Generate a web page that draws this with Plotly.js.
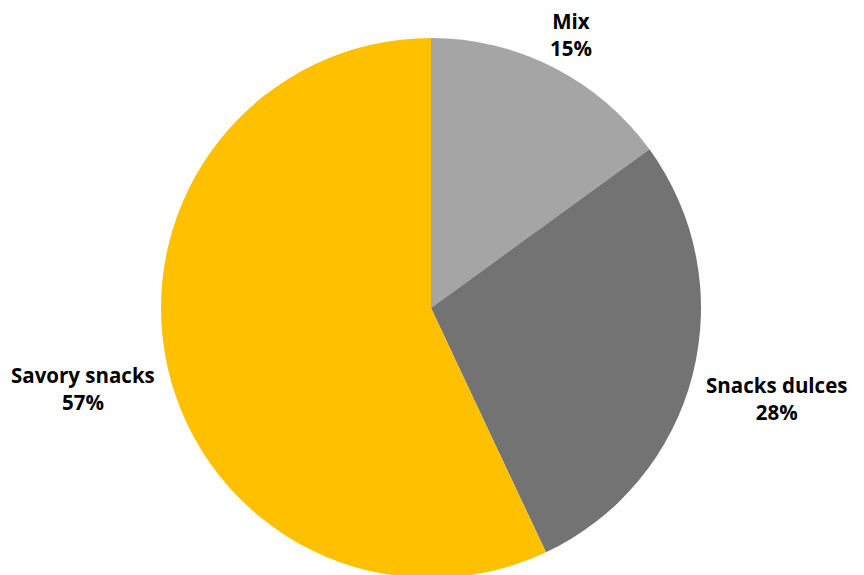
<!DOCTYPE html>
<html>
<head>
<meta charset="utf-8">
<script src="https://cdn.plot.ly/plotly-3.0.1.min.js"></script>
<style>html,body{margin:0;padding:0;overflow:hidden;background:#fff;}#chart{width:864px;height:578px;}</style>
</head>
<body>
<div id="chart"></div>
<script>
const categories = ["Mix", "Snacks dulces", "Savory snacks"];
const shares = [15, 28, 57];
const colors = ["#A5A5A5", "#737373", "#FFC000"];

// label block centre (pixels in page): [x, y]
const labelPos = [
  [571, 34],
  [776, 398.5],
  [83, 388]
];
const W = 864, H = 578;
const annotations = categories.map((c, i) => ({
  xref: "paper", yref: "paper",
  x: labelPos[i][0] / W, y: 1 - labelPos[i][1] / H,
  xanchor: "center", yanchor: "middle", align: "center",
  showarrow: false,
  text: "<b>" + c + "</b><br><b>" + shares[i] + "%</b>",
  font: {family: "Open Sans", size: 20.5, color: "#000", weight: 700}
}));

const trace = {
  type: "pie",
  labels: categories,
  values: shares,
  marker: {colors: colors, line: {width: 0}},
  sort: false,
  direction: "clockwise",
  rotation: 0,
  textinfo: "none",
  hoverinfo: "label+percent",
  domain: {x: [0, 862 / 864], y: [0, (578 - 38) / 578]}
};
Plotly.newPlot("chart", [trace], {
  width: W, height: H,
  margin: {l: 0, r: 0, t: 0, b: 0},
  showlegend: false,
  paper_bgcolor: "#fff",
  annotations: annotations
}, {displayModeBar: false, staticPlot: true});
</script>
</body>
</html>
